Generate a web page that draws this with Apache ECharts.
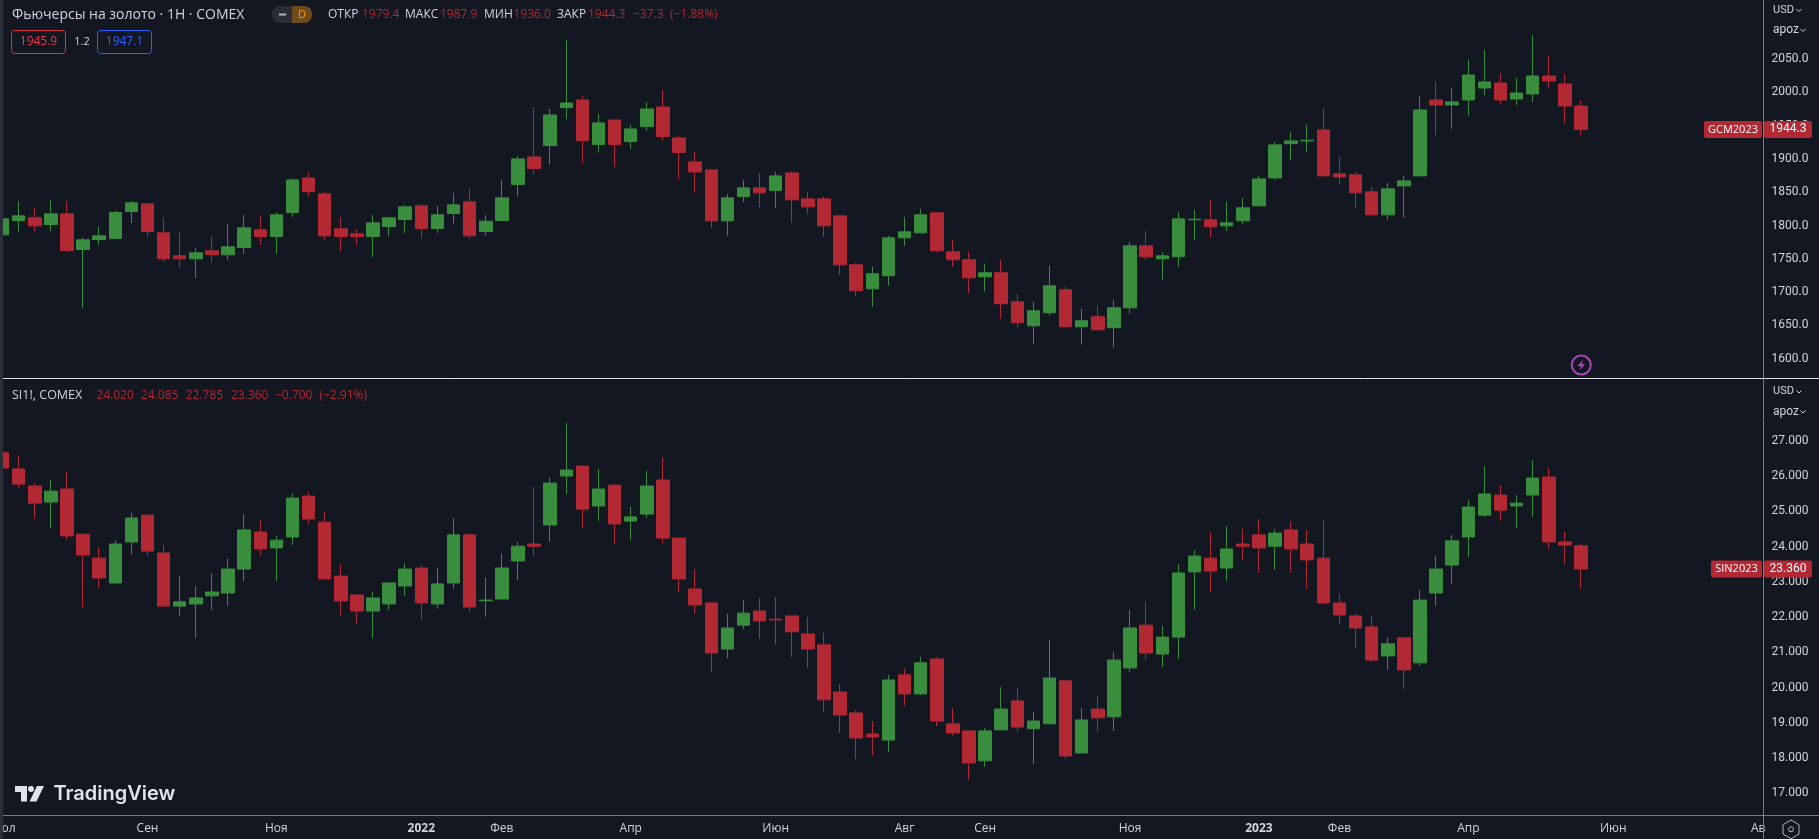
<!DOCTYPE html>
<html>
<head>
<meta charset="utf-8">
<title>GCM2023 / SIN2023</title>
<script src="https://cdn.jsdelivr.net/npm/echarts@6/dist/echarts.min.js"></script>
<style>
html, body { margin: 0; padding: 0; background: #131722; }
#main { width: 1819px; height: 839px; }
</style>
</head>
<body>
<div id="main"></div>
<script>
// золото, свечи по индексу 0..98
var goldOpen = [
	1786,1807.5,1811.5,1801.5,1817.5,1764,1779,1780.5,1821,1832.5,
	1789,1754.5,1750,1762,1756,1767,1793.5,1783.5,1819.5,1871.5,
	1847.5,1795,1787.5,1783.5,1798.5,1809,1829.5,1795.5,1818,1835.5,
	1791,1807.5,1861.5,1903,1920,1977,1988.5,1921.5,1958.5,1926,
	1948.5,1978,1931.5,1895.5,1883.5,1807,1843.5,1856.5,1852.5,1879,
	1840,1840,1814.5,1741,1705,1724.5,1781.5,1789,1819,1760.5,
	1748.5,1723,1729,1685.5,1649.5,1669,1703.5,1648,1663,1646.5,
	1676.5,1769.5,1750,1753,1808.5,1808.5,1799.5,1807,1829.5,1871.5,
	1923,1927,1943.5,1877.5,1876,1850.5,1816,1859.5,1874.5,1988.5,
	1981,1988.5,2006.5,2014,1990,1997.5,2024.5,2012.5,1979.4
];
var goldClose = [
	1810,1814.5,1799.5,1817.5,1762.5,1778.5,1784.5,1819.5,1834,1791,
	1750,1750,1759,1756.5,1768,1796.5,1783.5,1816,1868.5,1851,
	1784.5,1783.5,1783.5,1804,1811.5,1828,1795.5,1816,1831,1784.5,
	1806.5,1841.5,1900,1885.5,1966,1984,1927.5,1954,1921.5,1945,
	1975,1933.5,1909.5,1880.5,1807,1841.5,1856.5,1849,1874.5,1838.5,
	1828,1799.5,1741,1702,1727.5,1781.5,1790.5,1816,1762,1748.5,
	1721.5,1729,1682.5,1654,1672,1709.5,1648,1657,1643.5,1676.5,
	1769.5,1753,1754.5,1810,1809.5,1798,1804,1826.5,1870,1921,
	1927,1928,1874.5,1873,1849,1816,1855,1867,1973.5,1981,
	1985.5,2026,2015.5,1988.5,1999,2024.5,2017,1979.5,1944.3
];
var goldLow = [
	1784,1791,1791,1791,1760.5,1676,1771,1779.5,1803.5,1782.5,
	1745,1737,1721,1745,1748.5,1757,1771,1757.5,1812.5,1843.5,
	1778.5,1761,1770,1752.5,1783.5,1788.5,1781,1788.5,1803.5,1779.5,
	1785,1807,1843.5,1877.5,1891,1959.5,1893.5,1909.5,1887.5,1915,
	1942,1927.5,1869.5,1849.5,1796.5,1784.5,1835.5,1827.5,1826.5,1804.5,
	1817.5,1783,1726,1694.5,1678,1709.5,1769.5,1789,1759,1738,
	1697.5,1700.5,1660,1646.5,1622.5,1664.5,1646.5,1621,1642,1616.5,
	1667.5,1748.5,1718.5,1738,1778.5,1781.5,1792,1802.5,1829.5,1868.5,
	1898.5,1910.5,1874.5,1862.5,1826.5,1816,1808.5,1811.5,1874.5,1936,
	1945,1964.5,1996,1982.5,1981,1985.5,2006.5,1952.5,1936
];
var goldHigh = [
	1811,1836,1826,1838.5,1837,1782.5,1798.5,1822.5,1837,1833.5,
	1811,1790,1766,1784.5,1802.5,1816,1814.5,1820.5,1871,1880,
	1850.5,1812.5,1794.5,1816,1813,1831,1832.5,1829.5,1848.5,1856,
	1816,1868.5,1904.5,1977.5,1975.5,2078.5,1994.5,1967.5,1958.5,1951,
	1985.5,2003.5,1934.5,1910.5,1883.5,1847.5,1868.5,1878.5,1880.5,1881.5,
	1850.5,1843.5,1814.5,1744,1738.5,1784.5,1812.5,1825,1819,1778.5,
	1760.5,1742.5,1748.5,1697.5,1685.5,1739.5,1708.5,1675,1679.5,1688.5,
	1775.5,1792,1760.5,1820.5,1823.5,1838.5,1835.5,1841.5,1874.5,1925.5,
	1940.5,1951,1976.5,1903,1880.5,1858,1864,1874.5,1994.5,2015.5,
	2006.5,2049.5,2063.5,2029,2021.5,2086,2054.5,2027.5,1987.9
];

// серебро
var silverOpen = [
	26.66,26.2,25.715,25.26,25.63,24.35,23.67,22.965,24.13,24.89,
	23.815,22.31,22.37,22.6,22.68,23.36,24.41,23.96,24.27,25.43,
	24.69,23.16,22.625,22.17,22.37,22.88,23.39,22.37,22.965,24.33,
	22.46,22.51,23.59,24.07,24.61,26,26.28,25.15,25.74,24.72,
	24.92,25.885,24.24,22.795,22.4,21.09,21.77,22.17,21.94,22.03,
	21.52,21.21,19.875,19.28,18.68,18.51,20.36,19.82,20.81,18.97,
	18.77,17.92,18.8,19.62,18.83,18.97,20.19,18.145,19.39,19.17,
	20.555,21.77,20.95,21.43,23.28,23.67,23.39,24.07,24.33,24.01,
	24.47,24.07,23.67,22.4,22.03,21.72,20.895,21.41,20.7,22.68,
	23.475,24.27,24.89,25.46,25.15,25.46,25.97,24.13,24.02
];
var silverClose = [
	26.225,25.77,25.23,25.57,24.3,23.76,23.11,24.07,24.81,23.87,
	22.31,22.43,22.54,22.71,23.36,24.47,23.93,24.18,25.375,24.78,
	23.08,22.455,22.17,22.54,22.965,23.36,22.4,22.94,24.33,22.285,
	22.48,23.39,24.01,24.01,25.8,26.17,25.06,25.63,24.64,24.84,
	25.715,24.24,23.08,22.34,20.98,21.69,22.11,21.89,21.92,21.58,
	21.09,19.65,19.22,18.57,18.6,20.215,19.82,20.7,19.05,18.71,
	17.86,18.77,19.39,18.88,19.05,20.27,18.06,19.08,19.14,20.78,
	21.69,20.98,21.43,23.25,23.73,23.305,23.93,24.01,23.96,24.38,
	23.93,23.62,22.4,22.06,21.69,20.78,21.24,20.5,22.48,23.36,
	24.16,25.12,25.49,25.03,25.23,25.94,24.13,24.04,23.36
];
var silverLow = [
	26.225,25.66,24.78,24.52,24.18,22.275,22.82,22.965,23.77,23.73,
	22.31,22.03,21.4,22.2,22.31,23.02,23.73,23.02,24.04,24.64,
	23.08,22.03,21.8,21.4,22.2,22.6,21.92,22.23,22.795,22.14,
	22,22.51,23.05,23.73,24.13,25.49,24.52,24.72,24.07,24.18,
	24.81,24.09,22.71,22.09,20.44,20.84,21.66,21.38,21.21,20.86,
	20.55,19.31,18.71,17.975,18.09,18.17,19.48,19.79,18.91,18.63,
	17.38,17.75,18.8,18.74,17.83,18.97,17.975,18.145,18.74,18.77,
	20.44,20.78,20.58,20.81,22.2,22.71,23.02,23.62,23.25,23.33,
	23.25,22.795,22.37,21.8,21.12,20.725,20.5,19.96,20.61,22.31,
	22.94,23.7,24.84,24.72,24.52,24.84,23.93,23.5,22.785
];
var silverHigh = [
	26.83,26.59,25.81,25.885,26.11,24.35,23.98,24.18,24.96,24.89,
	24.04,23.16,22.88,23.24,23.66,24.92,24.75,24.3,25.51,25.545,
	24.98,23.5,22.625,22.71,22.965,23.53,23.475,23.39,24.81,24.37,
	23.11,23.79,24.13,25.68,25.96,27.51,26.28,26.2,25.77,25.13,
	26.15,26.53,24.24,23.36,22.4,22.09,22.48,22.54,22.57,22.03,
	22,21.55,20.1,19.36,19.05,20.36,20.53,20.87,20.87,19.42,
	18.77,18.845,20.02,19.99,19.31,21.35,20.19,19.42,19.76,21.01,
	22.2,22.43,21.75,23.5,23.9,24.41,24.58,24.5,24.78,24.5,
	24.72,24.47,24.75,22.65,22.105,22.03,21.43,21.41,22.77,23.73,
	24.33,25.32,26.28,25.74,25.46,26.45,26.225,24.41,24.085
];

// подписи времени
var monthLabels = ['Июл','Сен','Ноя','2022','Фев','Апр','Июн','Авг','Сен','Ноя','2023','Фев','Апр','Июн','Ав'];
var monthIndex = [0,9,17,26,31,39,48,56,61,70,78,83,91,100,109];

var up = '#388e3c';
var down = '#b22833';
var bg = '#131722';
var textColor = '#d1d4dc';
var fontName = '"Open Sans", "Noto Sans", sans-serif';

var cats = [];
for (var i = 0; i < 110; i++) {
	var pos = monthIndex.indexOf(i);
	cats.push(pos >= 0 ? monthLabels[pos] : '');
}

function ohlc(o, c, l, h) {
	var out = [];
	for (var i = 0; i < o.length; i++) {
		out.push([o[i], c[i], l[i], h[i]]);
	}
	return out;
}

var candleStyle = { color: up, color0: down, borderColor: up, borderColor0: down, borderWidth: 1 };

var myChart = echarts.init(document.getElementById('main'));

var option = {
	animation: false,
	backgroundColor: bg,
	grid: [
		{ left: 2.55, width: 1755.7, top: 0.4, height: 358.3, outerBoundsMode: 'none' },
		{ left: 2.55, width: 1755.7, top: 380.8, height: 412.5, outerBoundsMode: 'none' }
	],
	xAxis: [{
		type: 'category',
		gridIndex: 0,
		data: cats,
		boundaryGap: false,
		axisLine: { show: false },
		axisTick: { show: false },
		axisLabel: { show: false },
		splitLine: { show: false }
	}, {
		type: 'category',
		gridIndex: 1,
		data: cats,
		boundaryGap: false,
		offset: 21.7,
		axisLine: { show: false },
		axisTick: { show: false },
		splitLine: { show: false },
		axisLabel: {
			interval: 0,
			margin: 8,
			color: textColor,
			fontFamily: fontName,
			fontSize: 12,
			hideOverlap: false,
			showMinLabel: true,
			showMaxLabel: true,
			formatter: function (val) {
				if (/^\d+$/.test(val)) {
					return '{y|' + val + '}';
				}
				return val;
			},
			rich: {
				y: { fontWeight: 'bold', fontSize: 12, fontFamily: fontName, color: textColor }
			}
		}
	}],
	yAxis: [{
		type: 'value',
		gridIndex: 0,
		position: 'right',
		offset: 1763.5 - 2.55 - 1755.7,
		min: 1600,
		max: 2138,
		interval: 50,
		axisLine: { show: false },
		axisTick: { show: false },
		splitLine: { show: false },
		axisLabel: {
			margin: 8,
			color: textColor,
			fontFamily: 'Roboto',
			fontSize: 12,
			padding: [2, 0, 0, 0],
			formatter: function (v) {
				return v > 2050 ? '' : v.toFixed(1);
			}
		}
	}, {
		type: 'value',
		gridIndex: 1,
		position: 'right',
		offset: 1763.5 - 2.55 - 1755.7,
		min: 17,
		max: 28.7,
		interval: 1,
		axisLine: { show: false },
		axisTick: { show: false },
		splitLine: { show: false },
		axisLabel: {
			margin: 8,
			color: textColor,
			fontFamily: 'Roboto',
			fontSize: 12,
			padding: [2, 0, 0, 0],
			formatter: function (v) {
				return v > 27 ? '' : v.toFixed(3);
			}
		}
	}],
	series: [{
		name: 'GCM2023',
		type: 'candlestick',
		xAxisIndex: 0,
		yAxisIndex: 0,
		barWidth: 13,
		itemStyle: candleStyle,
		data: ohlc(goldOpen, goldClose, goldLow, goldHigh)
	}, {
		name: 'SIN2023',
		type: 'candlestick',
		xAxisIndex: 1,
		yAxisIndex: 1,
		barWidth: 13,
		itemStyle: candleStyle,
		data: ohlc(silverOpen, silverClose, silverLow, silverHigh)
	}]
};
myChart.setOption(option);

// всё что вокруг графика
function txt(x, y, s, color, size, extra) {
	var font = (extra && extra.font) || fontName;
	var st = { text: s, fill: color, font: (extra && extra.weight ? extra.weight + ' ' : '') + size + 'px ' + font, textAlign: (extra && extra.align) || 'left', textVerticalAlign: 'middle' };
	return { type: 'text', x: x, y: y, z: 50, style: st, silent: true };
}
function hline(y, color, x1, x2, w) {
	return { type: 'line', z: 40, shape: { x1: x1, y1: y, x2: x2, y2: y }, style: { stroke: color, lineWidth: w || 1 }, silent: true };
}
function box(x, y, w, h, fill, stroke, r) {
	return { type: 'rect', z: 45, shape: { x: x, y: y, width: w, height: h, r: r || 0 }, style: { fill: fill, stroke: stroke || null, lineWidth: 1 }, silent: true };
}
function priceTag(y, name, price, nameLeft) {
	return [
		box(nameLeft, y - 8.5, 1762 - nameLeft, 17, down, null, 2),
		box(1764, y - 8.5, 48, 17, down, null, 2),
		txt((nameLeft + 1762) / 2, y, name, '#ffffff', 11, { align: 'center' }),
		txt(1788, y, price, '#ffffff', 12, { align: 'center', font: 'Roboto' })
	];
}

var goldY = myChart.convertToPixel({ yAxisIndex: 0 }, goldClose[98]);
var silverY = myChart.convertToPixel({ yAxisIndex: 1 }, silverClose[98]);

var marks = [
	box(0, 0, 3, 839, '#2a2e39'),
	hline(378.5, '#e0e3eb', 0, 1819),
	hline(815.5, '#787b86', 3, 1819),
	{ type: 'line', z: 41, shape: { x1: 1763.5, y1: 0, x2: 1763.5, y2: 839 }, style: { stroke: '#787b86', lineWidth: 1 }, silent: true },

	txt(12, 15, 'Фьючерсы на золото · 1Н · COMEX', textColor, 14),
	box(272, 6, 40, 17, '#2a2e39', null, 8),
	{ type: 'rect', z: 46, shape: { x: 292, y: 6, width: 20, height: 17, r: [0, 8, 8, 0] }, style: { fill: '#6e4a1c' }, silent: true },
	box(279, 13.5, 7, 2, '#b2b5be'),
	txt(302, 15, 'D', '#ff9800', 11, { align: 'center' }),
	txt(328, 15, 'ОТКР', textColor, 12),
	txt(362, 15, '1979.4', down, 12),
	txt(405, 15, 'МАКС', textColor, 12),
	txt(440, 15, '1987.9', down, 12),
	txt(484, 15, 'МИН', textColor, 12),
	txt(513.5, 15, '1936.0', down, 12),
	txt(557, 15, 'ЗАКР', textColor, 12),
	txt(588, 15, '1944.3', down, 12),
	txt(633, 15, '−37.3', down, 12),
	txt(670, 15, '(−1.88%)', down, 12),

	box(11.5, 30.5, 54, 23, 'none', '#e0313f', 3),
	txt(38.5, 42, '1945.9', '#f23645', 12, { align: 'center' }),
	txt(82, 42, '1.2', textColor, 11, { align: 'center' }),
	box(97.5, 30.5, 54, 23, 'none', '#2962ff', 3),
	txt(124.5, 42, '1947.1', '#2962ff', 12, { align: 'center' }),

	txt(12, 395.5, 'SI1!, COMEX', textColor, 12.5),
	txt(96.4, 395.5, '24.020', down, 12),
	txt(140.8, 395.5, '24.085', down, 12),
	txt(185.7, 395.5, '22.785', down, 12),
	txt(231, 395.5, '23.360', down, 12),
	txt(275, 395.5, '−0.700', down, 12),
	txt(319.4, 395.5, '(−2.91%)', down, 12),

	txt(1773, 10, 'USD', textColor, 11, { font: 'Roboto' }),
	txt(1773, 30, 'apoz', textColor, 12, { font: 'Roboto' }),
	txt(1773, 391.5, 'USD', textColor, 11, { font: 'Roboto' }),
	txt(1773, 411.5, 'apoz', textColor, 12, { font: 'Roboto' }),

	txt(53.5, 793.5, 'TradingView', '#e0e3eb', 20, { weight: 600, font: 'Inter' }),
	{ type: 'polygon', z: 50, shape: { points: [[15, 786], [27, 786], [27, 801.5], [21, 801.5], [21, 792], [15, 792]] }, style: { fill: '#e0e3eb' }, silent: true },
	{ type: 'circle', z: 50, shape: { cx: 31, cy: 789, r: 3 }, style: { fill: '#e0e3eb' }, silent: true },
	{ type: 'polygon', z: 50, shape: { points: [[37, 786], [44, 786], [36.5, 801.5], [29.5, 801.5]] }, style: { fill: '#e0e3eb' }, silent: true },

	{ type: 'circle', z: 50, shape: { cx: 1581.3, cy: 365, r: 9.5 }, style: { fill: 'none', stroke: '#ab47bc', lineWidth: 2 }, silent: true },
	{ type: 'polygon', z: 50, shape: { points: [[1583, 359.5], [1577.5, 366], [1581, 366], [1579.5, 370.5], [1585, 364], [1581.5, 364]] }, style: { fill: '#ab47bc' }, silent: true },

	{ type: 'polygon', z: 50, shape: { points: [[1791, 820], [1799, 824.7], [1799, 834], [1791, 838.7], [1783, 834], [1783, 824.7]] }, style: { fill: 'none', stroke: '#b2b5be', lineWidth: 1 }, silent: true },
	{ type: 'circle', z: 50, shape: { cx: 1791, cy: 829.3, r: 2.5 }, style: { fill: 'none', stroke: '#b2b5be', lineWidth: 1 }, silent: true }
];

// галочки у USD / apoz
[[1799, 10], [1803, 30], [1799, 391.5], [1803, 411.5]].forEach(function (p) {
	marks.push({ type: 'polyline', z: 50, shape: { points: [[p[0] - 2.5, p[1] - 1], [p[0], p[1] + 1.5], [p[0] + 2.5, p[1] - 1]] }, style: { fill: 'none', stroke: textColor, lineWidth: 1 }, silent: true });
});

marks = marks.concat(priceTag(goldY, 'GCM2023', '1944.3', 1704));
marks = marks.concat(priceTag(silverY, 'SIN2023', '23.360', 1711));

myChart.setOption({ graphic: { elements: marks } });
</script>
</body>
</html>
